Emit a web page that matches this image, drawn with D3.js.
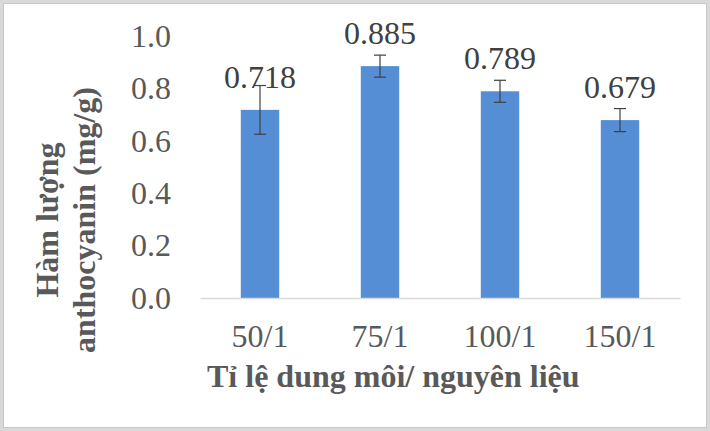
<!DOCTYPE html>
<html>
<head>
<meta charset="utf-8">
<script src="https://cdn.jsdelivr.net/npm/d3@7"></script>
<style>
  body { margin: 0; background: #d9d9d9; }
  svg { display: block; }
</style>
</head>
<body>
<svg id="chart" width="710" height="431"></svg>
<script>
// data
const categories = ["50/1", "75/1", "100/1", "150/1"];
const values = [0.718, 0.885, 0.789, 0.679];
const errors = [0.093, 0.042, 0.042, 0.044];
const yTicks = [0, 0.2, 0.4, 0.6, 0.8, 1.0];

const width = 710, height = 431;
const margin = { left: 200, right: 30, top: 36, bottom: 133 };

const svg = d3.select("#chart");

// fond blanc avec bordure
svg.append("rect")
	.attr("x", 3.5).attr("y", 3.5)
	.attr("width", width - 7).attr("height", height - 7)
	.attr("fill", "#fff")
	.attr("stroke", "#c8c8c8");

const x = d3.scaleBand()
	.domain(categories)
	.range([margin.left, width - margin.right])
	.paddingInner(0.68)
	.paddingOuter(0.34);

const y = d3.scaleLinear()
	.domain([0, 1])
	.range([height - margin.bottom, margin.top]);

const serif = "'Liberation Serif', 'Times New Roman', serif";

// axe des y (labels seulement)
const yAxis = svg.append("g")
	.attr("transform", `translate(${margin.left - 29},0)`)
	.call(d3.axisLeft(y).tickValues(yTicks).tickFormat(d3.format(".1f")).tickSize(0).tickPadding(0));
yAxis.select(".domain").remove();
yAxis.selectAll("text")
	.style("font-family", serif)
	.style("font-size", "32px")
	.attr("fill", "#595959");

// barres
svg.append("g").selectAll("rect")
	.data(values)
	.enter()
	.append("rect")
	.attr("x", (d, i) => x(categories[i]))
	.attr("y", d => y(d))
	.attr("width", x.bandwidth())
	.attr("height", d => y(0) - y(d))
	.attr("fill", "#558ed5");

// axe des x
const xAxis = svg.append("g")
	.attr("transform", `translate(0,${y(0)})`)
	.call(d3.axisBottom(x).tickSize(0).tickPadding(26));
xAxis.select(".domain")
	.attr("stroke", "#d9d9d9")
	.attr("stroke-width", 1.5);
xAxis.selectAll("text")
	.style("font-family", serif)
	.style("font-size", "32px")
	.attr("fill", "#595959");

// barres d'erreur
const err = svg.append("g")
	.attr("stroke", "#404040")
	.attr("stroke-width", 1.2);
values.forEach((v, i) => {
	const cx = x(categories[i]) + x.bandwidth() / 2;
	const y1 = y(v + errors[i]), y2 = y(v - errors[i]);
	err.append("line").attr("x1", cx).attr("x2", cx).attr("y1", y1).attr("y2", y2);
	err.append("line").attr("x1", cx - 6).attr("x2", cx + 6).attr("y1", y1).attr("y2", y1);
	err.append("line").attr("x1", cx - 6).attr("x2", cx + 6).attr("y1", y2).attr("y2", y2);
});

// étiquettes de valeurs
svg.append("g").selectAll("text")
	.data(values)
	.enter()
	.append("text")
	.attr("x", (d, i) => x(categories[i]) + x.bandwidth() / 2)
	.attr("y", d => y(d) - 22)
	.attr("text-anchor", "middle")
	.style("font-family", serif)
	.style("font-size", "32px")
	.attr("fill", "#404040")
	.text(d => d3.format(".3f")(d));

// titres des axes
svg.append("text")
	.attr("x", 207)
	.attr("y", 387)
	.style("font-family", serif)
	.style("font-size", "32px")
	.style("font-weight", "bold")
	.attr("fill", "#595959")
	.text("Tỉ lệ dung môi/ nguyên liệu");

const yTitle = svg.append("text")
	.attr("transform", "translate(0,220) rotate(-90)")
	.attr("text-anchor", "middle")
	.style("font-family", serif)
	.style("font-size", "32px")
	.style("font-weight", "bold")
	.attr("fill", "#595959");
yTitle.append("tspan").attr("x", 0).attr("y", 58).text("Hàm lượng");
yTitle.append("tspan").attr("x", 0).attr("y", 95).text("anthocyanin (mg/g)");
</script>
</body>
</html>
